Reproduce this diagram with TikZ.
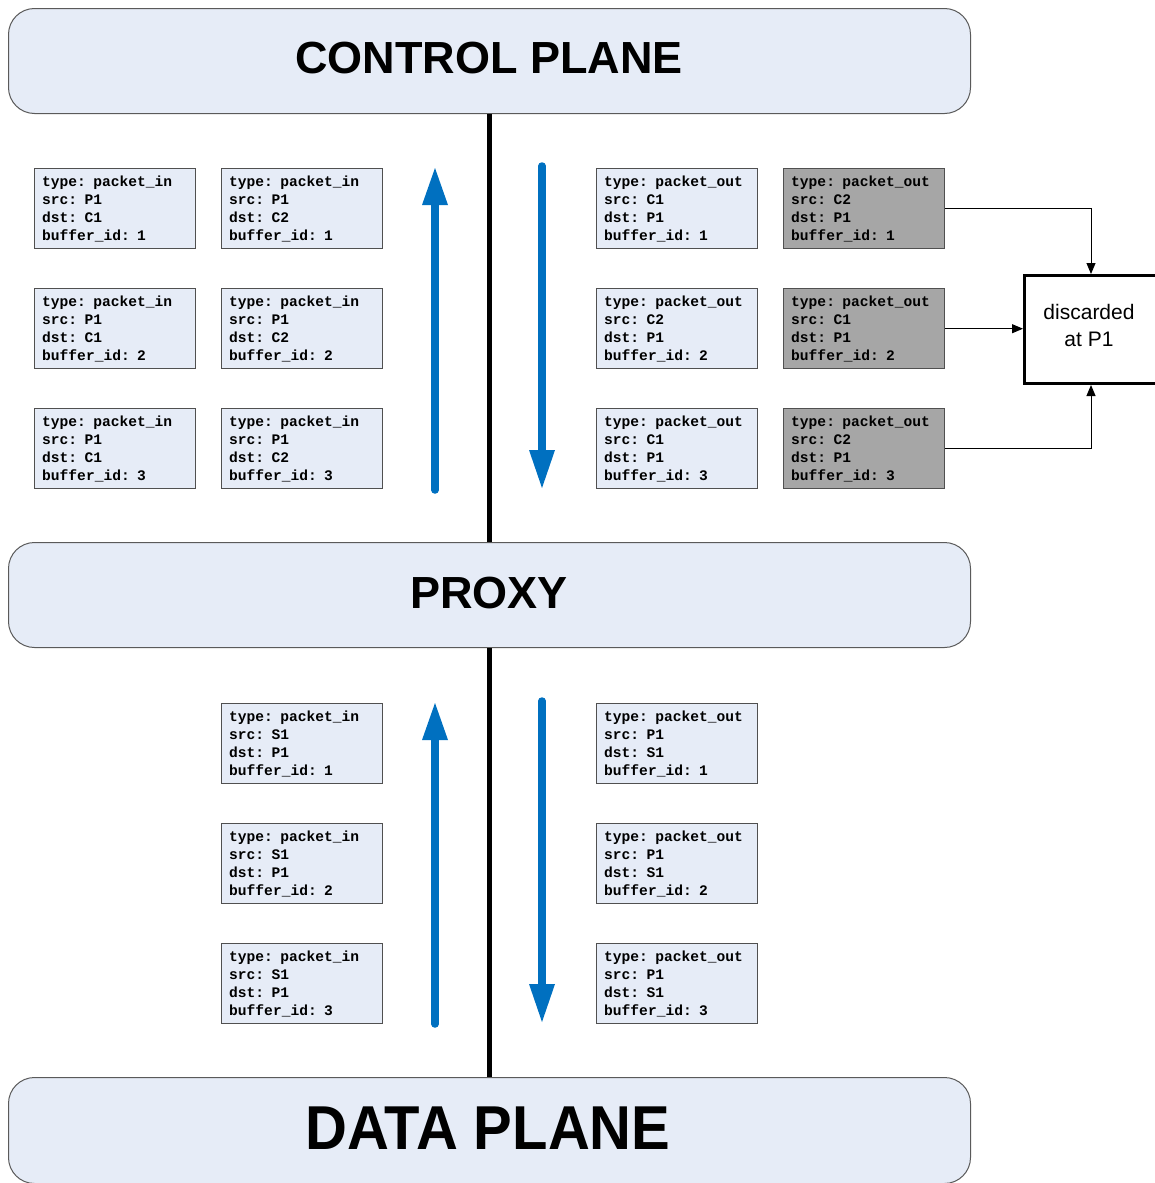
\documentclass[tikz,border=0pt]{standalone}
\usepackage{fontspec}
\setmainfont{Liberation Sans}
\newfontfamily\pktfont{Liberation Mono}
\usetikzlibrary{arrows.meta,calc}

\definecolor{planefill}{HTML}{E6ECF7}
\definecolor{planeedge}{HTML}{5A5A5A}
\definecolor{pktedge}{HTML}{505050}
\definecolor{dropfill}{HTML}{A6A6A6}
\definecolor{flowblue}{HTML}{0070C0}

\tikzset{
  plane/.style={draw=planeedge, line width=1pt, fill=planefill, rounded corners=26pt,
    minimum width=962pt, minimum height=105pt, anchor=north west, inner sep=0pt},
  planetext/.style={font=\bfseries\fontsize{45}{54}\selectfont},
  pkt/.style={draw=pktedge, line width=1.4pt, fill=planefill, anchor=north west,
    minimum width=161pt, minimum height=80pt, text width=146pt, inner xsep=7.5pt,
    inner ysep=0pt, align=left,
    font=\pktfont\bfseries\fontsize{14.6}{18}\selectfont},
  pktdrop/.style={pkt, fill=dropfill},
  bus/.style={line width=5pt, black},
  shaft/.style={line width=7.5pt, flowblue, line cap=round},
  link/.style={line width=1pt, black, -{Triangle[length=11pt,width=9pt]}},
}
% blue flow arrow: shaft from #1 to the tip #2, with a wide triangular head
\newcommand\flowup[2]{%
  \draw[shaft] (#1) -- ($(#2)+(0,30)$);
  \fill[flowblue] (#2) -- ++(-13,37) -- ++(26,0) -- cycle;}
\newcommand\flowdown[2]{%
  \draw[shaft] (#1) -- ($(#2)+(0,-30)$);
  \fill[flowblue] (#2) -- ++(-13,-38) -- ++(26,0) -- cycle;}

\begin{document}
\begin{tikzpicture}[x=1pt,y=-1pt]
\useasboundingbox (0,0) rectangle (1155,1183);

% the three layers
\node[plane] (control) at (8,8) {};
\node[planetext] (controlLabel) at (489,58) {CONTROL PLANE};
\node[plane] (proxy) at (8,542) {};
\node[planetext] (proxyLabel) at (489,593) {PROXY};
\node[plane, minimum height=106pt] (data) at (8,1077) {};
\node[font=\bfseries\fontsize{62}{70}\selectfont, xscale=0.935] (dataLabel) at (488,1128) {DATA PLANE};

% links between the layers
\draw[bus] (control.south) -- (proxy.north);
\draw[bus] (proxy.south) -- (data.north);

% upper flows
\coordinate (upA1) at (435,490); \coordinate (upA2) at (435,168);
\coordinate (dnA1) at (542,166); \coordinate (dnA2) at (542,488);
\flowup{upA1}{upA2}
\flowdown{dnA1}{dnA2}

% lower flows
\coordinate (upB1) at (435,1024); \coordinate (upB2) at (435,703);
\coordinate (dnB1) at (542,701); \coordinate (dnB2) at (542,1022);
\flowup{upB1}{upB2}
\flowdown{dnB1}{dnB2}

% packet_in messages towards the controllers
\node[pkt] (in11) at (34,168)  {type: packet\_in\\src: P1\\dst: C1\\buffer\_id: 1};
\node[pkt] (in12) at (221,168) {type: packet\_in\\src: P1\\dst: C2\\buffer\_id: 1};
\node[pkt] (in21) at (34,288)  {type: packet\_in\\src: P1\\dst: C1\\buffer\_id: 2};
\node[pkt] (in22) at (221,288) {type: packet\_in\\src: P1\\dst: C2\\buffer\_id: 2};
\node[pkt] (in31) at (34,408)  {type: packet\_in\\src: P1\\dst: C1\\buffer\_id: 3};
\node[pkt] (in32) at (221,408) {type: packet\_in\\src: P1\\dst: C2\\buffer\_id: 3};

% packet_out messages from the controllers
\node[pkt] (out11) at (596,168) {type: packet\_out\\src: C1\\dst: P1\\buffer\_id: 1};
\node[pktdrop] (out12) at (783,168) {type: packet\_out\\src: C2\\dst: P1\\buffer\_id: 1};
\node[pkt] (out21) at (596,288) {type: packet\_out\\src: C2\\dst: P1\\buffer\_id: 2};
\node[pktdrop] (out22) at (783,288) {type: packet\_out\\src: C1\\dst: P1\\buffer\_id: 2};
\node[pkt] (out31) at (596,408) {type: packet\_out\\src: C1\\dst: P1\\buffer\_id: 3};
\node[pktdrop] (out32) at (783,408) {type: packet\_out\\src: C2\\dst: P1\\buffer\_id: 3};

% discarded duplicates
\node[draw, line width=3pt, fill=white, minimum width=133pt, minimum height=108pt,
  anchor=north west, inner sep=0pt] (drop) at (1023,274) {};
\node[align=center, font=\fontsize{21}{27}\selectfont] (dropLabel) at (1089,325) {discarded\\at P1};
\draw[link] (out12.east) -| (drop.north);
\draw[link] (out22.east) -- (out22.east -| drop.west);
\draw[link] (out32.east) -| (drop.south);

% data plane side
\node[pkt] (sin1) at (221,703) {type: packet\_in\\src: S1\\dst: P1\\buffer\_id: 1};
\node[pkt] (sin2) at (221,823) {type: packet\_in\\src: S1\\dst: P1\\buffer\_id: 2};
\node[pkt] (sin3) at (221,943) {type: packet\_in\\src: S1\\dst: P1\\buffer\_id: 3};
\node[pkt] (sout1) at (596,703) {type: packet\_out\\src: P1\\dst: S1\\buffer\_id: 1};
\node[pkt] (sout2) at (596,823) {type: packet\_out\\src: P1\\dst: S1\\buffer\_id: 2};
\node[pkt] (sout3) at (596,943) {type: packet\_out\\src: P1\\dst: S1\\buffer\_id: 3};
\end{tikzpicture}
\end{document}
